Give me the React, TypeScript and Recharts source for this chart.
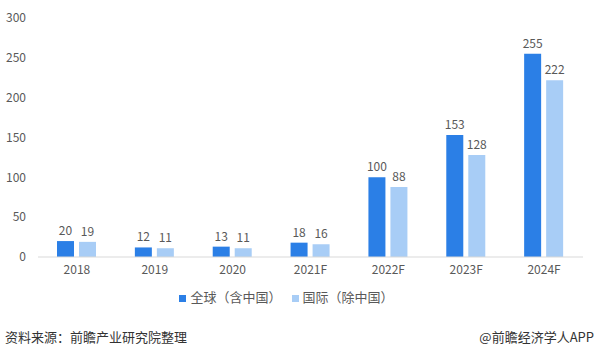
import { Bar, BarChart, LabelList, Legend, XAxis, YAxis } from "recharts";

const years = ["2018", "2019", "2020", "2021F", "2022F", "2023F", "2024F"];
const globalValues = [20, 12, 13, 18, 100, 153, 255];
const intlValues = [19, 11, 11, 16, 88, 128, 222];
const yTicks = [0, 50, 100, 150, 200, 250, 300];

const data = years.map((year, i) => ({
  year,
  global: globalValues[i],
  intl: intlValues[i]
}));

const font = '"Noto Sans CJK SC", "Noto Sans", sans-serif';

export default function App() {
  return (
    <div style={{ position: "absolute", left: 0, top: 0, width: 600, height: 354, background: "#fff", fontFamily: font }}>
      <BarChart
        width={600}
        height={314}
        data={data}
        margin={{ top: 18, right: 17, left: 0, bottom: 8 }}
        barGap={5}
        barSize={17}
      >
        <XAxis
          dataKey="year"
          tickLine={false}
          axisLine={{ stroke: "#d9d9d9" }}
          tick={{ fontSize: 12, fill: "#595959", fontFamily: font }}
        />
        <YAxis
          width={38}
          domain={[0, 300]}
          ticks={yTicks}
          axisLine={false}
          tickLine={false}
          tickMargin={6}
          tick={{ fontSize: 12, fill: "#595959", fontFamily: font }}
        />
        <Legend
          verticalAlign="bottom"
          iconType="square"
          iconSize={7}
          wrapperStyle={{ fontSize: 13, color: "#595959", fontFamily: font }}
          formatter={(value) => <span style={{ color: "#595959" }}>{value}</span>}
        />
        <Bar dataKey="global" name="全球（含中国）" fill="#2b7fe6" isAnimationActive={false}>
          <LabelList dataKey="global" position="top" offset={6} fill="#595959" fontSize={12} fontFamily={font} />
        </Bar>
        <Bar dataKey="intl" name="国际（除中国）" fill="#a8cdf6" isAnimationActive={false}>
          <LabelList dataKey="intl" position="top" offset={6} fill="#595959" fontSize={12} fontFamily={font} />
        </Bar>
      </BarChart>
      <div style={{ position: "absolute", left: 5, top: 327, fontSize: 13, color: "#333" }}>资料来源：前瞻产业研究院整理</div>
      <div style={{ position: "absolute", right: 6, top: 327, fontSize: 13, color: "#333" }}>@前瞻经济学人APP</div>
    </div>
  );
}
